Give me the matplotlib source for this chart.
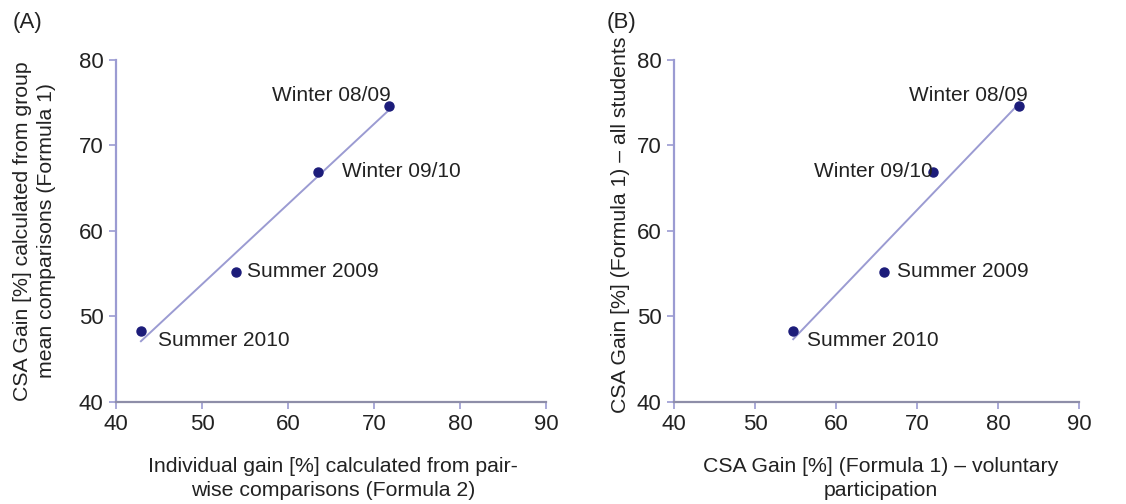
import numpy as np
import matplotlib
matplotlib.use('Agg')
from matplotlib import pyplot as plt

plt.rcParams['font.family'] = ['Liberation Sans', 'DejaVu Sans']

# terms (same order in both panels)
terms = ['Winter 08/09', 'Winter 09/10', 'Summer 2009', 'Summer 2010']

# panel A: individual gain (Formula 2) vs CSA gain from group means (Formula 1)
a_x = [71.7, 63.5, 53.9, 42.9]
a_y = [74.6, 66.9, 55.2, 48.3]

# panel B: CSA gain voluntary participation vs all students
b_x = [82.5, 72.0, 65.9, 54.7]
b_y = [74.6, 66.9, 55.2, 48.3]

xticks = [40, 50, 60, 70, 80, 90]
yticks = [40, 50, 60, 70, 80]

lav = '#9b9bd2'
dot = '#1c1c7a'
txt = '#222222'

# label offsets in pixels (dx, dy, ha)
a_offsets = [(2, 11, 'right'), (24, 0, 'left'), (11, 0, 'left'), (17, -10, 'left')]
b_offsets = [(9, 11, 'right'), (-1, 0, 'right'), (13, 0, 'left'), (14, -10, 'left')]

fig = plt.figure(figsize=(11.26, 5.04), dpi=100)
ax_a = fig.add_axes([0.103, 0.203, 0.382, 0.678])
ax_b = fig.add_axes([0.5986, 0.203, 0.36, 0.678])


def draw(ax, xs, ys, offsets):
    xs = np.array(xs)
    ys = np.array(ys)
    k, b = np.polyfit(xs, ys, 1)
    xl = np.array([xs.min(), xs.max()])
    ax.plot(xl, k * xl + b, color=lav, lw=1.4, zorder=2)
    ax.plot(xs, ys, 'o', color=dot, ms=6.5, zorder=3)
    for name, x, y, (dx, dy, ha) in zip(terms, xs, ys, offsets):
        ax.annotate(name, (x, y), xytext=(dx, dy), textcoords='offset pixels',
                    ha=ha, va='center', fontsize=15, color=txt)
    ax.set_xlim(40, 90)
    ax.set_ylim(40, 80)
    ax.set_xticks(xticks)
    ax.set_yticks(yticks)
    ax.spines['top'].set_visible(False)
    ax.spines['right'].set_visible(False)
    ax.spines['left'].set_color(lav)
    ax.spines['bottom'].set_color('#8e8ea8')
    ax.spines['left'].set_linewidth(1.6)
    ax.spines['bottom'].set_linewidth(1.6)
    ax.tick_params(direction='out', length=5, width=1.2, color=lav,
                   labelsize=16, labelcolor=txt, pad=4)


draw(ax_a, a_x, a_y, a_offsets)
draw(ax_b, b_x, b_y, b_offsets)

ax_a.set_ylabel('CSA Gain [%] calculated from group\nmean comparisons (Formula 1)',
                fontsize=15.3, color=txt, linespacing=1.3, va='center')
ax_a.yaxis.set_label_coords(-0.19, 0.5, transform=ax_a.transAxes)
ax_a.set_xlabel('Individual gain [%] calculated from pair-\nwise comparisons (Formula 2)',
                fontsize=15.3, color=txt, linespacing=1.3, va='top')
ax_a.xaxis.set_label_coords(0.505, -0.162, transform=ax_a.transAxes)

ax_b.set_ylabel('CSA Gain [%] (Formula 1) – all students', fontsize=15.3, color=txt,
                va='center')
ax_b.yaxis.set_label_coords(-0.131, 0.517, transform=ax_b.transAxes)
ax_b.set_xlabel('CSA Gain [%] (Formula 1) – voluntary\nparticipation',
                fontsize=15.3, color=txt, linespacing=1.3, va='top')
ax_b.xaxis.set_label_coords(0.509, -0.162, transform=ax_b.transAxes)

fig.text(0.011, 0.956, '(A)', fontsize=16, color=txt, va='center')
fig.text(0.539, 0.956, '(B)', fontsize=16, color=txt, va='center')

plt.savefig('out.png', dpi=100)
